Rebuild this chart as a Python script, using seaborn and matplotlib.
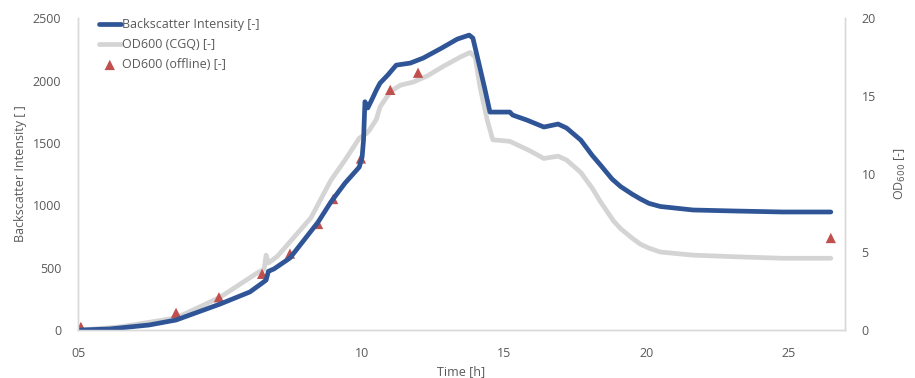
# Backscatter vs OD600 over time (CGQ online + offline samples)
import pandas as pd
import seaborn as sns
import matplotlib.pyplot as plt

# --- data ---
bs_time = [0.1, 1.1, 2.5, 3.45, 5.0, 6.05, 6.48, 6.62, 6.7, 6.9, 7.1, 7.46, 8.45, 8.9,
           9.4, 9.9, 10.0, 10.05, 10.1, 10.2, 10.35, 10.5, 10.63, 10.9, 11.2, 11.7, 12.15,
           12.8, 13.35, 13.77, 13.9, 14.15, 14.33, 14.5, 15.2, 15.3, 15.8, 16.4, 16.9,
           17.2, 17.7, 18.1, 18.4, 18.8, 19.1, 19.5, 19.8, 20.1, 20.5, 21.65, 23.1,
           24.8, 26.5]
bs_val = [0, 8, 40, 80, 208, 305, 376, 400, 470, 490, 521, 577, 865, 1026,
          1178, 1306, 1386, 1522, 1830, 1780, 1850, 1923, 1979, 2043, 2123, 2140, 2180,
          2260, 2332, 2364, 2340, 2100, 1923, 1747, 1747, 1723, 1683, 1627, 1651,
          1619, 1522, 1400, 1320, 1210, 1150, 1090, 1050, 1015, 990, 962, 954,
          946, 946]

od_time = [0.1, 1.5, 3.45, 5.0, 6.3, 6.55, 6.62, 6.7, 7.0, 7.1, 8.2, 8.9, 9.4, 9.9,
           10.15, 10.25, 10.5, 10.63, 11.0, 11.35, 11.8, 12.3, 12.85, 13.45, 13.8, 13.98,
           14.15, 14.4, 14.6, 15.2, 15.9, 16.4, 16.9, 17.2, 17.7, 18.1, 18.4, 18.85,
           19.1, 19.5, 19.8, 20.1, 20.5, 21.65, 23.1, 24.8, 26.5]
od_val = [0, 0.2, 0.77, 2.1, 3.65, 3.9, 4.8, 4.3, 4.7, 4.9, 7.2, 9.6, 10.9, 12.3,
          12.6, 12.8, 13.5, 14.3, 15.3, 15.7, 15.9, 16.3, 16.9, 17.5, 17.8, 17.5,
          15.6, 13.5, 12.2, 12.1, 11.5, 11.0, 11.15, 10.9, 10.1, 9.1, 8.2, 7.0,
          6.5, 5.9, 5.5, 5.25, 5.0, 4.8, 4.7, 4.6, 4.6]

offline_time = [0.1, 3.45, 4.96, 6.48, 7.46, 8.45, 8.98, 9.96, 10.99, 11.97, 26.5]
offline_od = [0.2, 1.1, 2.1, 3.6, 4.9, 6.8, 8.4, 11.0, 15.4, 16.5, 5.9]

x_ticks = [0, 10, 15, 20, 25]
x_labels = ["05", "10", "15", "20", "25"]

df_bs = pd.DataFrame({"t": bs_time, "v": bs_val})
df_od = pd.DataFrame({"t": od_time, "v": od_val})
df_off = pd.DataFrame({"t": offline_time, "v": offline_od})

sns.set_theme(style="white")
plt.rcParams["font.family"] = ["Open Sans", "DejaVu Sans"]
gris_texto = "#595959"
gris_eje = "#D9D9D9"

fig = plt.figure(figsize=(9.15, 3.78), dpi=100)
ax = fig.add_axes([0.0853, 0.127, 0.8382, 0.825])
ax2 = ax.twinx()

# curva de OD (gris) en el eje derecho, detrás de la azul
sns.lineplot(data=df_od, x="t", y="v", ax=ax2, color="#D4D4D4", linewidth=3.4,
             label="OD600 (CGQ) [-]", legend=False, solid_joinstyle="round")
sns.scatterplot(data=df_off, x="t", y="v", ax=ax2, marker="^", color="#C0504D", s=55,
                edgecolor="none", label="OD600 (offline) [-]", legend=False, zorder=5)
sns.lineplot(data=df_bs, x="t", y="v", ax=ax, color="#2F5597", linewidth=3.4,
             label="Backscatter Intensity [-]", legend=False, solid_joinstyle="round")

# la azul por encima de la gris
ax.set_zorder(ax2.get_zorder() + 1)
ax.patch.set_visible(False)

ax.set_xlim(0, 27)
ax.set_ylim(0, 2500)
ax2.set_ylim(0, 20)
ax.set_yticks(range(0, 2501, 500))
ax2.set_yticks(range(0, 21, 5))
ax.set_xticks(x_ticks)
ax.set_xticklabels(x_labels)

ax.set_xlabel("Time [h]", color=gris_texto, fontsize=9)
ax.set_ylabel("Backscatter Intensity [ ]", color=gris_texto, fontsize=9, labelpad=4)
ax2.set_ylabel("OD$_{600}$ [-]", color=gris_texto, fontsize=9, labelpad=12)
ax2.set_xlabel("")

for a in (ax, ax2):
    a.tick_params(axis="both", colors=gris_texto, labelsize=9, length=0, pad=12)
    for lado in ("left", "right", "bottom"):
        a.spines[lado].set_color(gris_eje)
        a.spines[lado].set_linewidth(1)
    a.spines["top"].set_visible(False)

# leyenda combinada de ambos ejes
h1, l1 = ax.get_legend_handles_labels()
h2, l2 = ax2.get_legend_handles_labels()
leg = ax.legend(h1 + h2, l1 + l2, loc="upper left", bbox_to_anchor=(0.012, 1.035),
                frameon=False, fontsize=9, handlelength=1.8, handletextpad=0.1,
                labelspacing=0.55, labelcolor=gris_texto)

plt.savefig("out.png", dpi=100)
plt.close()
